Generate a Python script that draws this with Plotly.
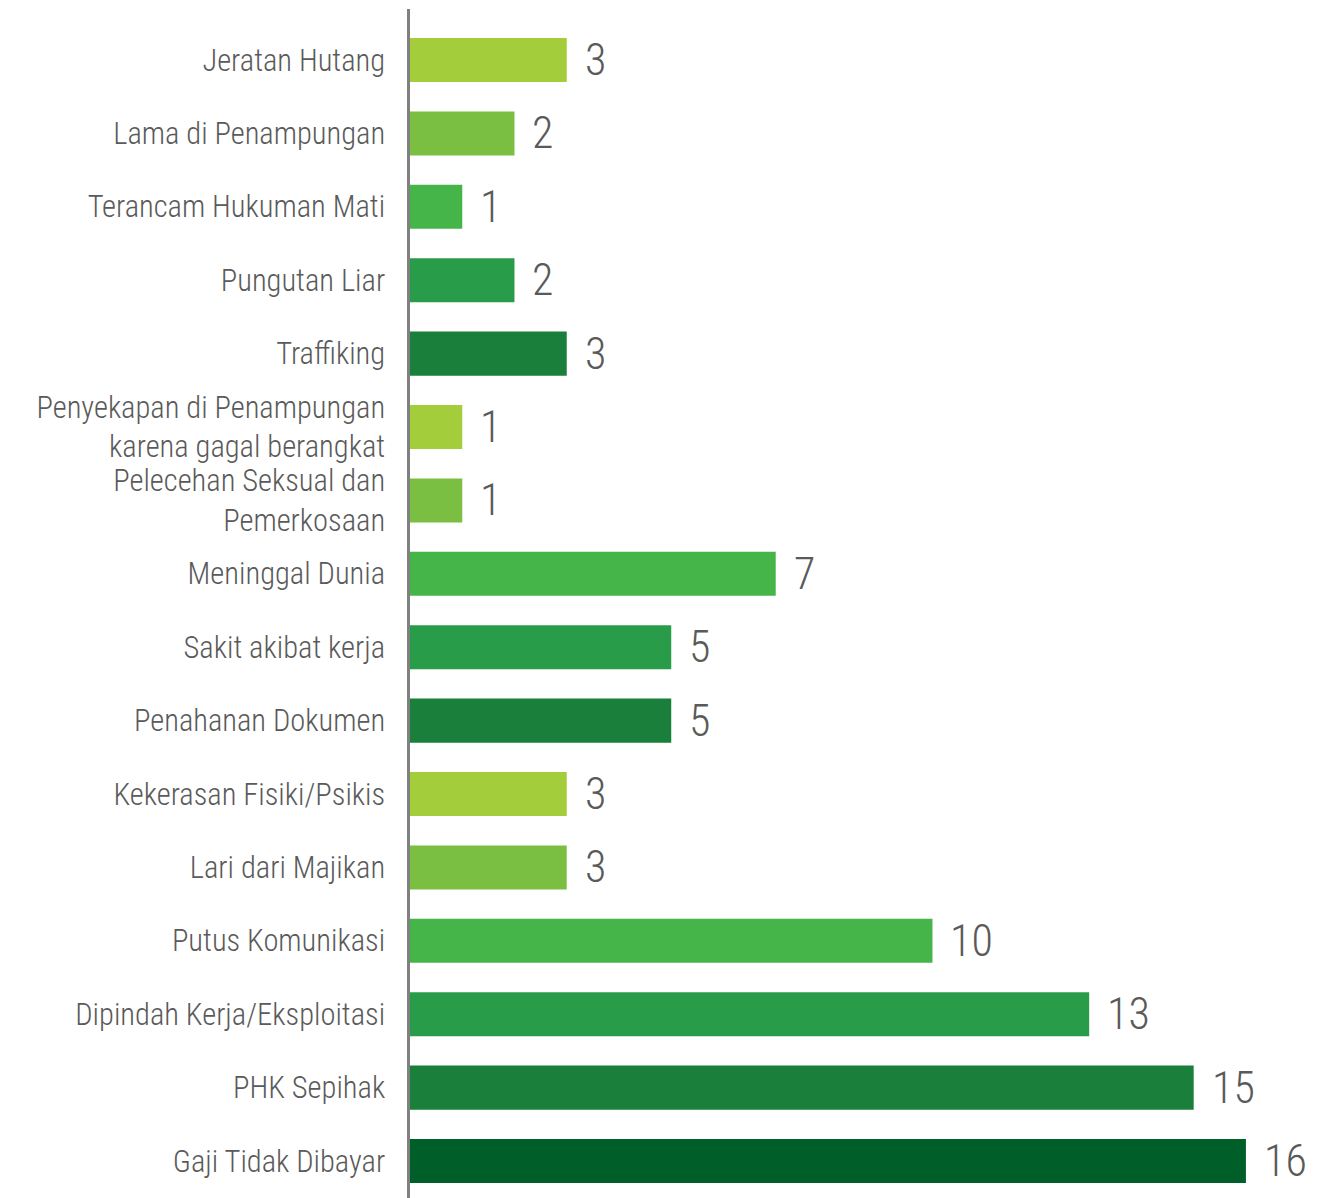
import plotly.graph_objects as go

categories = [
    "Jeratan Hutang",
    "Lama di Penampungan",
    "Terancam Hukuman Mati",
    "Pungutan Liar",
    "Traffiking",
    "Penyekapan di Penampungan<br>karena gagal berangkat",
    "Pelecehan Seksual dan<br>Pemerkosaan",
    "Meninggal Dunia",
    "Sakit akibat kerja",
    "Penahanan Dokumen",
    "Kekerasan Fisiki/Psikis",
    "Lari dari Majikan",
    "Putus Komunikasi",
    "Dipindah Kerja/Eksploitasi",
    "PHK Sepihak",
    "Gaji Tidak Dibayar",
]
values = [3, 2, 1, 2, 3, 1, 1, 7, 5, 5, 3, 3, 10, 13, 15, 16]
colors = [
    "#a3cd3a", "#7bbf42", "#46b549", "#299c4a", "#1a7f3a",
    "#a3cd3a", "#7bbf42", "#46b549", "#299c4a", "#1a7f3a",
    "#a3cd3a", "#7bbf42", "#46b549", "#299c4a", "#1a7f3a",
    "#005f29",
]

FONT = "Roboto Condensed, Liberation Sans Narrow, DejaVu Sans Condensed, sans-serif"

fig = go.Figure()
fig.add_trace(go.Bar(
    y=categories,
    x=values,
    orientation="h",
    marker=dict(color=colors, line=dict(width=0)),
    width=0.6,
    hoverinfo="skip",
))

for c, v in zip(categories, values):
    fig.add_annotation(
        x=v, y=c, text=str(v), showarrow=False,
        xanchor="left", yanchor="middle", xshift=16, yshift=0,
        font=dict(family=FONT, size=44, color="#5a5a5a", weight=300),
    )

fig.update_layout(
    width=1321, height=1190,
    margin=dict(l=402, r=0, t=1, b=0, autoexpand=False),
    paper_bgcolor="white", plot_bgcolor="white",
    showlegend=False,
    font=dict(family=FONT, color="#5a5a5a"),
)
fig.update_xaxes(range=[0, 17.59], visible=False, showgrid=False, zeroline=False,
                 automargin=False)
fig.update_yaxes(
    type="category",
    range=[15.504, -0.695],
    showline=True, linecolor="#808080", linewidth=2.5,
    showgrid=False, zeroline=False, automargin=False,
    ticks="", ticklabelstandoff=16,
    tickfont=dict(family=FONT, size=30.5, color="#5a5a5a", weight=300),
)

fig.write_html("out.html")
